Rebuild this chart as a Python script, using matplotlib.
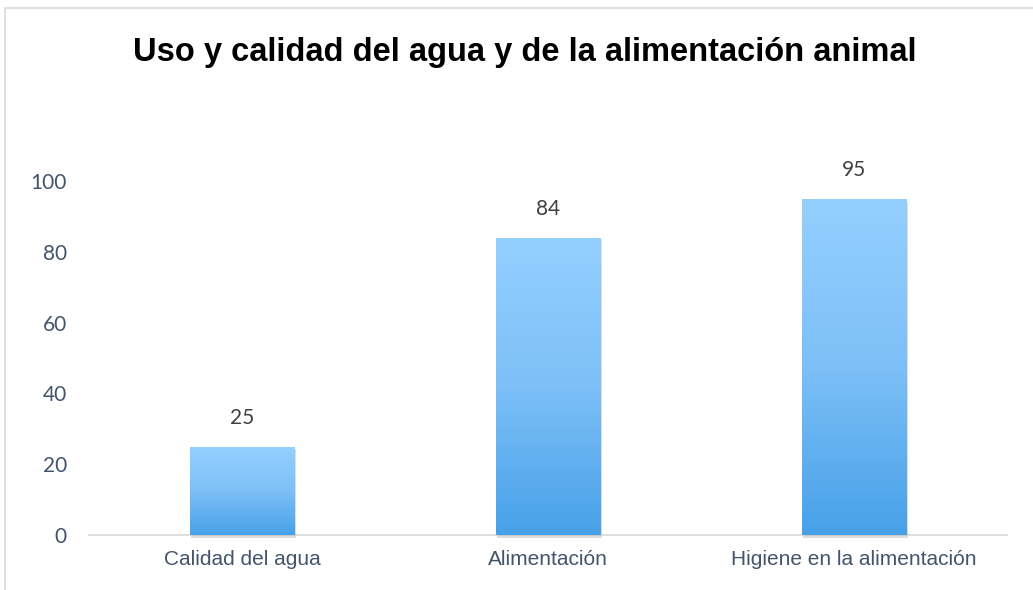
import numpy as np
import matplotlib
matplotlib.use("Agg")
import matplotlib.pyplot as plt
from matplotlib.patches import Rectangle
from matplotlib.colors import LinearSegmentedColormap

categories = ["Calidad del agua", "Alimentación", "Higiene en la alimentación"]
values = [25, 84, 95]
yticks = [0, 20, 40, 60, 80, 100]
title = "Uso y calidad del agua y de la alimentación animal"

W, H = 1033, 590
fig = plt.figure(figsize=(W / 100, H / 100), dpi=100)
fig.patch.set_facecolor("white")

# light frame of the chart area (top + left edges visible)
fig.add_artist(Rectangle((5 / W, -0.1), 1.2, (1 - 8 / H) + 0.1, transform=fig.transFigure,
                         fill=False, edgecolor="#D9D9D9", linewidth=1.2))

ax = fig.add_axes([89 / W, 1 - 535 / H, 918 / W, 354 / H])

grad = LinearSegmentedColormap.from_list("bar", ["#47A1E8", "#7DBFF7", "#94D0FF"])
bw = 0.343
for i, v in enumerate(values):
    # soft shadow under bar
    sh = Rectangle((i - bw / 2 + 0.004, -0.8), bw, v, facecolor="#A0A0A0", alpha=0.35,
                   edgecolor="none", zorder=1, clip_on=False)
    ax.add_patch(sh)
    rect = Rectangle((i - bw / 2, 0), bw, v, facecolor="none", edgecolor="none", zorder=2)
    ax.add_patch(rect)
    img = ax.imshow(np.linspace(0, 1, 256).reshape(-1, 1), cmap=grad, origin="lower",
                    extent=(i - bw / 2, i + bw / 2, 0, v), aspect="auto", zorder=2)
    img.set_clip_path(rect)
    ax.text(i, v + 5.3, str(v), ha="center", va="bottom", fontsize=15,
            family="Lato", color="#404040", clip_on=False)

ax.set_aspect("auto")
ax.set_xlim(-0.5, len(categories) - 0.5)
ax.set_ylim(0, 100)

for s in ["top", "right", "left"]:
    ax.spines[s].set_visible(False)
ax.spines["bottom"].set_color("#D9D9D9")
ax.spines["bottom"].set_linewidth(1.2)
ax.spines["bottom"].set_zorder(0)

ax.set_xticks(range(len(categories)))
ax.set_xticklabels(categories, fontsize=15, family="Liberation Sans", color="#44546A")
ax.set_yticks(yticks)
ax.set_yticklabels([str(t) for t in yticks], fontsize=15, family="Lato", color="#44546A")
ax.tick_params(axis="both", length=0)
ax.tick_params(axis="x", pad=11)
ax.tick_params(axis="y", pad=16)

fig.text(525 / W, 1 - 53 / H, title, ha="center", va="center", fontsize=23.5,
         fontweight="bold", family="Liberation Sans", color="black")

fig.savefig("out.png", dpi=100, facecolor="white")
